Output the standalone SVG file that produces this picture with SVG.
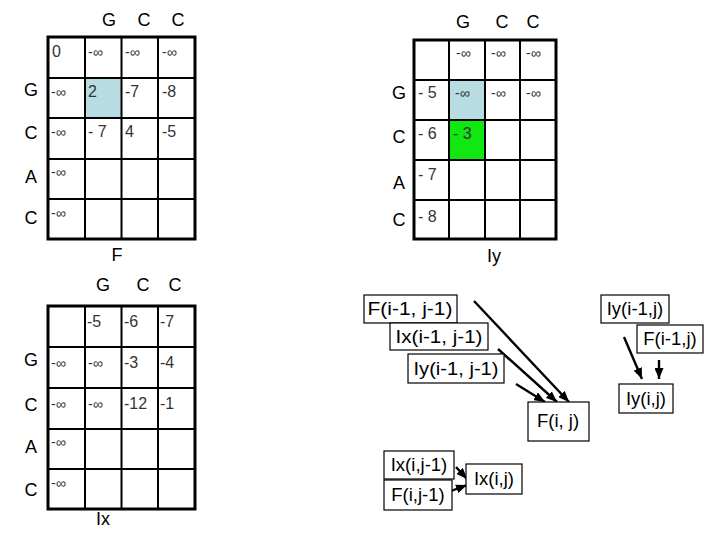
<svg xmlns="http://www.w3.org/2000/svg" width="720" height="540" viewBox="0 0 720 540">
<style>
.lbl{font-family:"Liberation Sans",Arial,sans-serif;font-size:18px;fill:#000;text-anchor:middle}
.v{font-family:"Liberation Sans",Arial,sans-serif;font-size:16px;fill:#333}
.inf{font-family:"Liberation Sans",Arial,sans-serif;font-size:14px;fill:#333}
.outer{fill:none;stroke:#000;stroke-width:3}
.inner{fill:none;stroke:#000;stroke-width:2}
.box{fill:#fff;stroke:#000;stroke-width:1.2}
.bt{font-family:"Liberation Sans",Arial,sans-serif;font-size:18.5px;fill:#000;text-anchor:middle}
.arr{stroke:#000;stroke-width:2.4;fill:none;marker-end:url(#ah)}
</style>
<defs>
<marker id="ah" markerUnits="userSpaceOnUse" markerWidth="11" markerHeight="9" refX="11" refY="4.5" orient="auto">
<path d="M0,0 L11,4.5 L0,9 z" fill="#000"/>
</marker>
</defs>
<rect width="720" height="540" fill="#fff"/>

<g id="gridF">
<rect x="85" y="78" width="36.5" height="40" fill="#b7dde2"/>
<path class="inner" d="M85,37V239M121.5,37V239M158,37V239M48,78H195M48,118H195M48,159H195M48,199H195"/>
<rect class="outer" x="48" y="37" width="147" height="202"/>
<text class="lbl" x="109" y="26">G</text>
<text class="lbl" x="144" y="26">C</text>
<text class="lbl" x="178" y="26">C</text>
<text class="lbl" x="31" y="96">G</text>
<text class="lbl" x="31" y="139">C</text>
<text class="lbl" x="31" y="183">A</text>
<text class="lbl" x="31" y="224">C</text>
<text class="v" x="52" y="57">0</text>
<text class="inf" x="88" y="57">-∞</text>
<text class="inf" x="125" y="57">-∞</text>
<text class="inf" x="162" y="57">-∞</text>
<text class="inf" x="51" y="97">-∞</text>
<text class="v" x="88" y="97">2</text>
<text class="v" x="125" y="97">-7</text>
<text class="v" x="162" y="97">-8</text>
<text class="inf" x="51" y="137">-∞</text>
<text class="v" x="88" y="137">- 7</text>
<text class="v" x="125" y="137">4</text>
<text class="v" x="162" y="137">-5</text>
<text class="inf" x="51" y="177">-∞</text>
<text class="inf" x="51" y="218">-∞</text>
<text class="lbl" x="117" y="261">F</text>
</g>

<g id="gridIy">
<rect x="449" y="80" width="36" height="40" fill="#b7dde2"/>
<rect x="449" y="120" width="36" height="40" fill="#11e811"/>
<path class="inner" d="M449,40V239M485,40V239M520,40V239M414,80H556M414,120H556M414,160H556M414,200H556"/>
<rect class="outer" x="414" y="40" width="142" height="199"/>
<text class="lbl" x="463" y="28">G</text>
<text class="lbl" x="502" y="28">C</text>
<text class="lbl" x="533" y="28">C</text>
<text class="lbl" x="399" y="99">G</text>
<text class="lbl" x="399" y="143">C</text>
<text class="lbl" x="399" y="189">A</text>
<text class="lbl" x="399" y="226">C</text>
<text class="inf" x="456" y="58">-∞</text>
<text class="inf" x="491" y="58">-∞</text>
<text class="inf" x="526" y="58">-∞</text>
<text class="v" x="418" y="98">- 5</text>
<text class="inf" x="455" y="98">-∞</text>
<text class="inf" x="491" y="98">-∞</text>
<text class="inf" x="526" y="98">-∞</text>
<text class="v" x="418" y="139">- 6</text>
<text class="v" x="453" y="139">- 3</text>
<text class="v" x="418" y="180">- 7</text>
<text class="v" x="418" y="222">- 8</text>
<text class="lbl" x="494" y="262">Iy</text>
</g>

<g id="gridIx">
<path class="inner" d="M85,306V509M121.5,306V509M158,306V509M48,347H195M48,388H195M48,429H195M48,469H195"/>
<rect class="outer" x="48" y="306" width="147" height="203"/>
<text class="lbl" x="103" y="291">G</text>
<text class="lbl" x="143" y="291">C</text>
<text class="lbl" x="175" y="291">C</text>
<text class="lbl" x="31" y="366">G</text>
<text class="lbl" x="31" y="411">C</text>
<text class="lbl" x="31" y="453">A</text>
<text class="lbl" x="31" y="496">C</text>
<text class="v" x="87" y="327">-5</text>
<text class="v" x="124" y="327">-6</text>
<text class="v" x="160" y="327">-7</text>
<text class="inf" x="51" y="368">-∞</text>
<text class="inf" x="88" y="368">-∞</text>
<text class="v" x="124" y="368">-3</text>
<text class="v" x="160" y="368">-4</text>
<text class="inf" x="51" y="409">-∞</text>
<text class="inf" x="88" y="409">-∞</text>
<text class="v" x="124" y="409">-12</text>
<text class="v" x="160" y="409">-1</text>
<text class="inf" x="51" y="447">-∞</text>
<text class="inf" x="51" y="488">-∞</text>
<text class="lbl" x="103" y="525">Ix</text>
</g>

<g id="connectors">
<line class="arr" x1="474" y1="301" x2="569" y2="402"/>
<line class="arr" x1="498" y1="349" x2="557" y2="402"/>
<line class="arr" x1="516" y1="384" x2="545" y2="402"/>
<line class="arr" x1="624" y1="337" x2="642" y2="379"/>
<line class="arr" x1="659" y1="360" x2="659" y2="379"/>
<line class="arr" x1="456" y1="467" x2="467" y2="479"/>
<line class="arr" x1="451" y1="491" x2="467" y2="485"/>
</g>

<g id="nF11"><rect class="box" x="364" y="295" width="93" height="28"/><text class="bt" x="410" y="315" textLength="85" lengthAdjust="spacingAndGlyphs">F(i-1, j-1)</text></g>
<g id="nIx11"><rect class="box" x="390" y="323" width="98" height="27"/><text class="bt" x="439" y="343" textLength="87" lengthAdjust="spacingAndGlyphs">Ix(i-1, j-1)</text></g>
<g id="nIy11"><rect class="box" x="408" y="354" width="96" height="29"/><text class="bt" x="456" y="375" textLength="85" lengthAdjust="spacingAndGlyphs">Iy(i-1, j-1)</text></g>
<g id="nFij"><rect class="box" x="528" y="402" width="61" height="39"/><text class="bt" x="558" y="427">F(i, j)</text></g>
<g id="nIy10"><rect class="box" x="601" y="295" width="68" height="28"/><text class="bt" x="635" y="315">Iy(i-1,j)</text></g>
<g id="nF10"><rect class="box" x="637" y="325" width="66" height="28"/><text class="bt" x="670" y="345">F(i-1,j)</text></g>
<g id="nIyij"><rect class="box" x="619" y="384" width="54" height="29"/><text class="bt" x="646" y="405">Iy(i,j)</text></g>
<g id="nIx01"><rect class="box" x="384" y="451" width="70" height="28"/><text class="bt" x="419" y="471">Ix(i,j-1)</text></g>
<g id="nF01"><rect class="box" x="384" y="480" width="68" height="30"/><text class="bt" x="418" y="501">F(i,j-1)</text></g>
<g id="nIxij"><rect class="box" x="466" y="464" width="56" height="30"/><text class="bt" x="494" y="485">Ix(i,j)</text></g>
</svg>
